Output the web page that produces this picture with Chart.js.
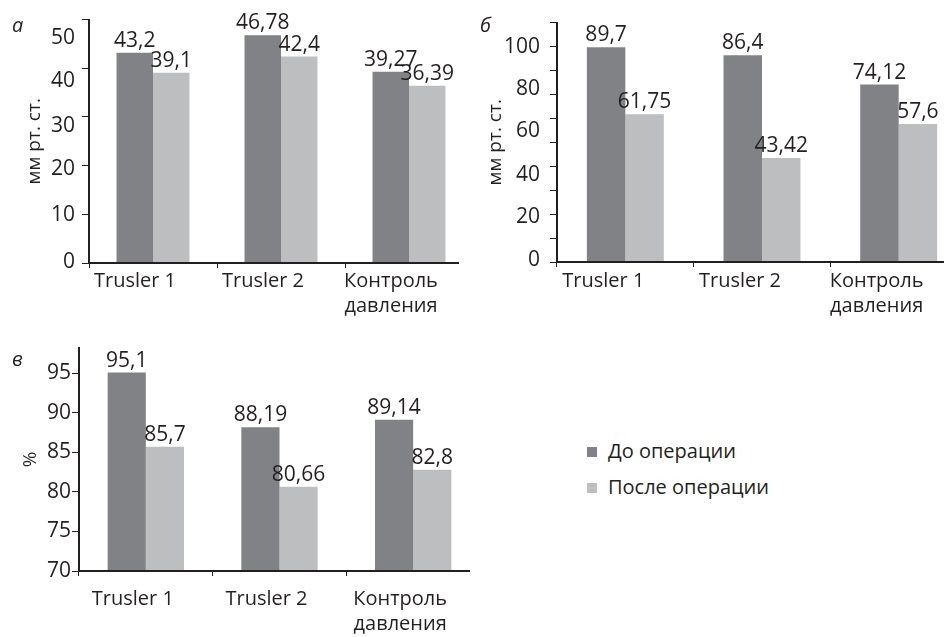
<!DOCTYPE html>
<html lang="ru">
<head>
<meta charset="utf-8">
<title>Trusler — давление до и после операции</title>
<script src="https://cdn.jsdelivr.net/npm/chart.js@4.4.1/dist/chart.umd.min.js"></script>
<style>
    html, body { margin: 0; padding: 0; background: #fff; }
    body {
        width: 944px; height: 637px; overflow: hidden; position: relative;
        font-family: "Open Sans", sans-serif; color: #231f20;
    }
    canvas { position: absolute; }
    .letra { position: absolute; font-style: italic; font-size: 20px; line-height: 20px; }
    .fila { position: absolute; left: 587px; padding-left: 21px; font-size: 20px; line-height: 24px; height: 24px; white-space: nowrap; }
    .fila span { position: absolute; left: 0; top: 8px; width: 10px; height: 10px; }
</style>
</head>
<body>

<canvas id="graficaA" width="480" height="320" style="left:0;top:0"></canvas>
<canvas id="graficaB" width="520" height="320" style="left:470px;top:0"></canvas>
<canvas id="graficaC" width="490" height="317" style="left:0;top:320px"></canvas>

<div class="letra" style="left:12px;top:15px">а</div>
<div class="letra" style="left:480px;top:15px">б</div>
<div class="letra" style="left:12px;top:349px">в</div>

<div class="fila" style="top:439px"><span style="background:#808285"></span>До операции</div>
<div class="fila" style="top:475px"><span style="background:#bcbec0"></span>После операции</div>

<script>
// Datos
const categorias = [['Trusler 1'], ['Trusler 2'], ['Контроль', 'давления']];
const series = ['До операции', 'После операции'];

const antesA = [43.2, 46.78, 39.27];
const despuesA = [39.1, 42.4, 36.39];
const antesB = [89.7, 86.4, 74.12];
const despuesB = [61.75, 43.42, 57.6];
const antesC = [95.1, 88.19, 89.14];
const despuesC = [85.7, 80.66, 82.8];

// marcas del eje y, y donde aparecen los textos (en el original no coinciden)
const marcasA = [0, 10, 20, 30, 40, 50];
const textosA = ['0', '10', '20', '30', '40', '50'];
const posTextosA = [0.3, 9.8, 19.3, 28.2, 37.3, 46.2];

const marcasB = [0, 10, 20, 30, 40, 50, 60, 70, 80, 90, 100];
const textosB = ['0', '20', '40', '60', '80', '100'];
const posTextosB = [0.9, 18.6, 36.3, 54.6, 72.2, 89.8];

const marcasC = [70, 75, 80, 85, 90, 95];
const textosC = ['70', '75', '80', '85', '90', '95'];
const posTextosC = [70, 75, 80, 85, 90, 95];

// Colores
const COLORES = {
    antes: '#808285',
    despues: '#bcbec0',
    eje: '#231f20',
    texto: '#231f20',
    nada: 'rgba(0,0,0,0)'
};

Chart.defaults.font.family = '"Open Sans", sans-serif';
Chart.defaults.color = COLORES.texto;

function formatear(v) {
    return String(v).replace('.', ',');
}

// valores sobre las barras
const etiquetasBarras = {
    id: 'etiquetasBarras',
    afterDatasetsDraw(chart) {
        const ctx = chart.ctx;
        ctx.save();
        ctx.font = '21px "Open Sans", sans-serif';
        ctx.fillStyle = COLORES.texto;
        ctx.textAlign = 'center';
        ctx.textBaseline = 'alphabetic';
        chart.data.datasets.forEach((ds, i) => {
            chart.getDatasetMeta(i).data.forEach((barra, j) => {
                ctx.fillText(formatear(ds.data[j]), barra.x, barra.y - 6);
            });
        });
        ctx.restore();
    }
};

// linea del eje x (en el original termina antes del borde)
const ejeX = {
    id: 'ejeX',
    afterDraw(chart, args, opts) {
        const { ctx, chartArea } = chart;
        ctx.save();
        ctx.strokeStyle = COLORES.eje;
        ctx.lineWidth = 2;
        ctx.beginPath();
        ctx.moveTo(chartArea.left - 1, chartArea.bottom);
        ctx.lineTo(chartArea.right - (opts.recorte || 0), chartArea.bottom);
        ctx.stroke();
        ctx.restore();
    }
};

function crearGrafica(canvasId, antes, despues, cfg) {
    const ctx = document.getElementById(canvasId);
    if (!ctx) return null;

    const todos = [...new Set([...cfg.marcas, ...cfg.posTextos])].sort((a, b) => a - b);

    return new Chart(ctx, {
        type: 'bar',
        data: {
            labels: categorias,
            datasets: [
                { label: series[0], data: antes, backgroundColor: COLORES.antes, borderWidth: 0 },
                { label: series[1], data: despues, backgroundColor: COLORES.despues, borderWidth: 0 }
            ]
        },
        options: {
            responsive: false,
            animation: false,
            events: [],
            categoryPercentage: cfg.porcentaje,
            barPercentage: 1,
            layout: { padding: cfg.padding },
            plugins: {
                legend: { display: false },
                tooltip: { enabled: false },
                ejeX: { recorte: cfg.recorte }
            },
            scales: {
                x: {
                    afterFit: (scale) => { scale.height = cfg.altoX; },
                    border: { display: false },
                    grid: {
                        drawOnChartArea: false,
                        drawTicks: true,
                        tickLength: 5,
                        lineWidth: 1,
                        offset: true,
                        tickColor: (c) => (c.type === 'tick' ? COLORES.eje : COLORES.nada)
                    },
                    ticks: {
                        autoSkip: false,
                        maxRotation: 0,
                        padding: cfg.padX,
                        labelOffset: cfg.desplazamiento,
                        font: { size: 20, lineHeight: 1.25 },
                        color: COLORES.texto
                    }
                },
                y: {
                    min: cfg.min,
                    max: cfg.max,
                    afterBuildTicks: (scale) => { scale.ticks = todos.map(v => ({ value: v })); },
                    afterFit: (scale) => { scale.width = cfg.anchoY; },
                    border: { display: true, color: COLORES.eje, width: 2 },
                    grid: {
                        drawOnChartArea: false,
                        drawTicks: true,
                        tickLength: 7,
                        lineWidth: 1,
                        tickColor: (c) => (c.tick && cfg.marcas.includes(c.tick.value) ? COLORES.eje : COLORES.nada)
                    },
                    ticks: {
                        autoSkip: false,
                        padding: cfg.padY,
                        font: { size: 21 },
                        color: COLORES.texto,
                        callback: function (value) {
                            const i = cfg.posTextos.indexOf(value);
                            return i >= 0 ? cfg.textos[i] : '';
                        }
                    },
                    title: {
                        display: true,
                        text: cfg.tituloY,
                        font: { size: 19 },
                        color: COLORES.texto,
                        padding: { top: cfg.tituloPad, bottom: 0 }
                    }
                }
            }
        },
        plugins: [etiquetasBarras, ejeX]
    });
}

crearGrafica('graficaA', antesA, despuesA, {
    min: 0, max: 50,
    marcas: marcasA, textos: textosA, posTextos: posTextosA,
    tituloY: 'мм рт. ст.', tituloPad: 23,
    anchoY: 89, altoX: 57,
    padding: { top: 18, right: 7, bottom: 0, left: 0 },
    porcentaje: 0.57, padX: 1, padY: 7, desplazamiento: -18, recorte: 14
});

crearGrafica('graficaB', antesB, despuesB, {
    min: 0, max: 100,
    marcas: marcasB, textos: textosB, posTextos: posTextosB,
    tituloY: 'мм рт. ст.', tituloPad: 14,
    anchoY: 87, altoX: 58,
    padding: { top: 17, right: 23, bottom: 0, left: 0 },
    porcentaje: 0.563, padX: 2, padY: 10, desplazamiento: -22, recorte: 0
});

crearGrafica('graficaC', antesC, despuesC, {
    min: 70, max: 98.2,
    marcas: marcasC, textos: textosC, posTextos: posTextosC,
    tituloY: '%', tituloPad: 19,
    anchoY: 79, altoX: 66,
    padding: { top: 28, right: 10, bottom: 0, left: 0 },
    porcentaje: 0.571, padX: 11, padY: 1, desplazamiento: -13, recorte: 10
});
</script>
</body>
</html>
